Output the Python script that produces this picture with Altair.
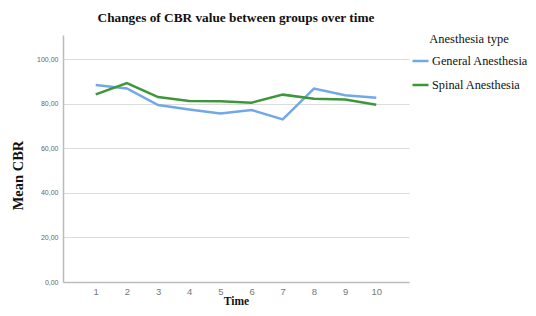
import altair as alt
import pandas as pd

times = [1, 2, 3, 4, 5, 6, 7, 8, 9, 10]
general = [88.5, 87.0, 79.5, 77.5, 75.7, 77.3, 73.1, 86.9, 83.9, 82.8]
spinal = [84.3, 89.4, 83.1, 81.3, 81.2, 80.6, 84.2, 82.4, 82.0, 79.7]
groups = ["General Anesthesia", "Spinal Anesthesia"]
colors = ["#72a7e8", "#3f963a"]
y_ticks = [0, 20, 40, 60, 80, 100]

rows = []
for t, g, s in zip(times, general, spinal):
    rows.append({"Time": t, "group": groups[0], "cbr": g})
    rows.append({"Time": t, "group": groups[1], "cbr": s})
df = pd.DataFrame(rows)

serif = "Liberation Serif"

chart = alt.Chart(df).mark_line(strokeWidth=2.5).encode(
    x=alt.X("Time:Q",
            scale=alt.Scale(domain=[-0.05, 11.05], nice=False, zero=False),
            axis=alt.Axis(values=times, title="Time", grid=False, ticks=False,
                          labelFont="Liberation Sans", labelFontSize=9.5, labelColor="#777",
                          labelPadding=4, domainColor="#bbb", domainWidth=1.5,
                          titleFont=serif, titleFontSize=11.5, titleFontWeight="bold",
                          titleColor="#111", titlePadding=0)),
    y=alt.Y("cbr:Q",
            scale=alt.Scale(domain=[0, 111], nice=False),
            axis=alt.Axis(values=y_ticks, title="Mean CBR", ticks=False,
                          labelExpr="replace(format(datum.value, '.2f'), '.', ',')",
                          labelFont="Liberation Sans", labelFontSize=7, labelColor="#666",
                          labelPadding=5, domainColor="#bbb", domainWidth=1.5,
                          gridColor="#dcdcdc", gridWidth=1.2,
                          titleFont=serif, titleFontSize=14.5, titleFontWeight="bold",
                          titleColor="#111", titleY=140, titlePadding=11)),
    color=alt.Color("group:N",
                    scale=alt.Scale(domain=groups, range=colors),
                    legend=alt.Legend(title="Anesthesia type", orient="none",
                                      legendX=348, legendY=-2,
                                      symbolType="stroke", symbolSize=256,
                                      symbolStrokeWidth=2.5,
                                      titleFont=serif, titleFontSize=12.5,
                                      titleFontWeight="normal", titleColor="#111",
                                      titleAnchor="middle", titlePadding=6,
                                      labelFont=serif, labelFontSize=12.3,
                                      labelColor="#111", labelOffset=2,
                                      rowPadding=8)),
).properties(
    width=346,
    height=247,
    title=alt.TitleParams("Changes of CBR value between groups over time",
                          font=serif, fontSize=13.3, fontWeight="bold",
                          color="#111", anchor="middle", frame="group", offset=9),
    autosize=alt.AutoSizeParams(type="none"),
    padding={"left": 55, "top": 27, "right": 119, "bottom": 26},
).configure_view(stroke=None)

chart.save("out.html", embed_options={"renderer": "svg", "actions": False})
